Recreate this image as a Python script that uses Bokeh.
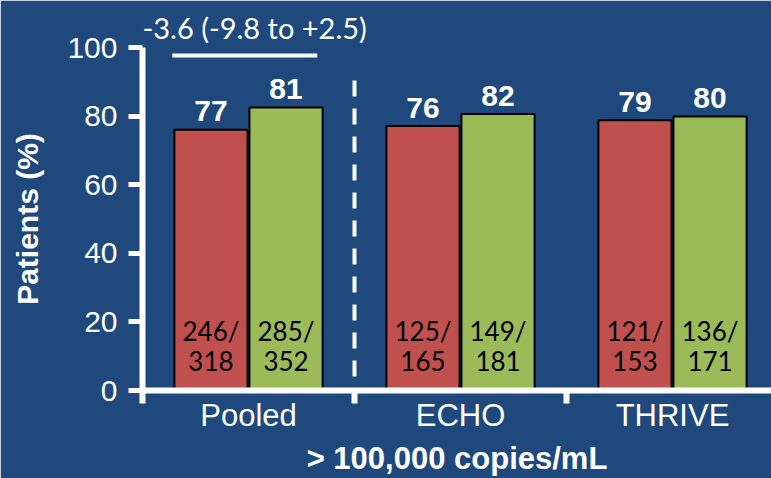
from bokeh.plotting import figure
from bokeh.models import FixedTicker, ColumnDataSource, Range1d, Title
from bokeh.core.properties import value
from bokeh.embed import file_html
from bokeh.resources import INLINE

# ---- data ----
groups = ["Pooled", "ECHO", "THRIVE"]
red_values = [76.0, 77.1, 78.8]      # drawn bar heights (%)
green_values = [82.5, 80.6, 79.9]
red_labels = ["77", "76", "79"]
green_labels = ["81", "82", "80"]
red_num = ["246/", "125/", "121/"]
red_den = ["318", "165", "153"]
green_num = ["285/", "149/", "136/"]
green_den = ["352", "181", "171"]
y_ticks = [0, 20, 40, 60, 80, 100]
diff_text = "-3.6 (-9.8 to +2.5)"
x_title = "> 100,000 copies/mL"
y_title = "Patients (%)"

# ---- style ----
BG = "#1F497D"
RED = "#C0504D"
GREEN = "#9BBB59"
WHITE = "white"
SANS = "Liberation Sans"
CAL = "Lato"

n = len(groups)
centers = [i + 0.5 for i in range(n)]
off = 0.177
bw = 0.345
red_x = [c - off for c in centers]
green_x = [c + off for c in centers]
x_end = 2.967

p = figure(width=771, height=478, x_range=Range1d(0, x_end), y_range=Range1d(0, 100),
           output_backend="svg", toolbar_location=None,
           min_border_left=142, min_border_right=0, min_border_top=47, min_border_bottom=88)
p.background_fill_color = BG
p.border_fill_color = BG
p.outline_line_color = BG
p.outline_line_width = 3
p.xgrid.visible = False
p.ygrid.visible = False

# pooled difference shown as the title above the frame
p.title = Title(text=diff_text, align="left", offset=0, standoff=6, text_font=CAL,
                text_font_size="29px", text_font_style="normal", text_color=WHITE)

src_r = ColumnDataSource(dict(x=red_x, top=red_values, lab=red_labels, num=red_num, den=red_den))
src_g = ColumnDataSource(dict(x=green_x, top=green_values, lab=green_labels, num=green_num, den=green_den))

for src, col in ((src_r, RED), (src_g, GREEN)):
    p.vbar(x="x", top="top", width=bw, source=src, fill_color=col, line_color="black", line_width=2)
    p.text(x="x", y="top", text="lab", source=src, text_align="center", text_baseline="alphabetic",
           y_offset=-18.5, text_font=value(SANS), text_font_style="bold", text_font_size="30px",
           text_color=WHITE)
    p.text(x="x", y=0, text="num", source=src, text_align="center", text_baseline="alphabetic",
           y_offset=-60, text_font=value(CAL), text_font_size="26px", text_color="black")
    p.text(x="x", y=0, text="den", source=src, text_align="center", text_baseline="alphabetic",
           y_offset=-29.5, text_font=value(CAL), text_font_size="26px", text_color="black")

# dashed separator between pooled and individual studies
sep_x = [1]
p.segment(x0=sep_x, y0=[90.4], x1=sep_x, y1=[3.9], line_color=WHITE, line_width=4, line_dash="16 12")

# bracket for the pooled difference
bx0 = red_x[0] - bw / 2 - 0.01
bx1 = green_x[0] + bw / 2 - 0.025
p.segment(x0=[bx0], y0=[97.7], x1=[bx1], y1=[97.7], line_color=WHITE, line_width=4)

# y axis
ya = p.yaxis[0]
ya.ticker = FixedTicker(ticks=y_ticks)
ya.axis_line_color = WHITE
ya.axis_line_width = 6
ya.major_tick_line_color = WHITE
ya.major_tick_line_width = 5
ya.major_tick_in = 0
ya.major_tick_out = 14
ya.minor_tick_line_color = None
ya.major_label_text_color = WHITE
ya.major_label_text_font = SANS
ya.major_label_text_font_size = "30px"
ya.major_label_standoff = 11
ya.axis_label = y_title
ya.axis_label_text_font = SANS
ya.axis_label_text_font_style = "bold"
ya.axis_label_text_font_size = "30px"
ya.axis_label_text_color = WHITE
ya.axis_label_standoff = 20

# x axis: group names at centres (major), group boundaries as minor ticks
xa = p.xaxis[0]
xa.ticker = FixedTicker(ticks=centers, minor_ticks=list(range(n)))
xa.major_label_overrides = {c: g for c, g in zip(centers, groups)}
xa.axis_line_color = WHITE
xa.axis_line_width = 6
xa.major_tick_line_color = None
xa.major_tick_in = 0
xa.major_tick_out = 0
xa.minor_tick_line_color = WHITE
xa.minor_tick_line_width = 6
xa.minor_tick_in = 0
xa.minor_tick_out = 13
xa.major_label_standoff = -6
xa.major_label_text_color = WHITE
xa.major_label_text_font = SANS
xa.major_label_text_font_size = "31px"
xa.axis_label = x_title
xa.axis_label_text_font = SANS
xa.axis_label_text_font_style = "bold"
xa.axis_label_text_font_size = "31px"
xa.axis_label_text_color = WHITE
xa.axis_label_standoff = 5

open("out.html", "w").write(file_html(p, INLINE))
